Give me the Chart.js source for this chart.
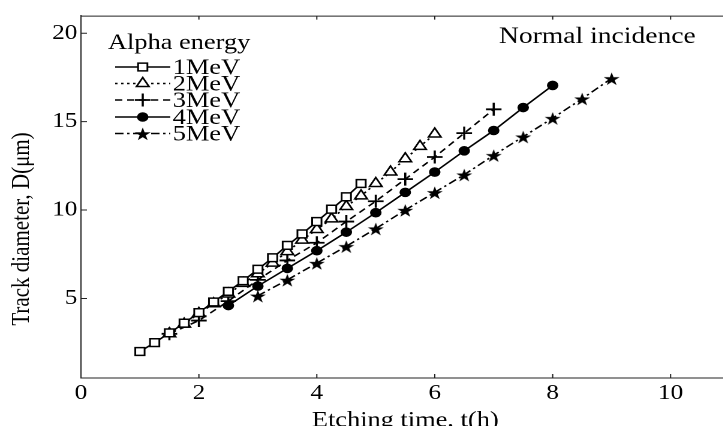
<!DOCTYPE html>
<html>
<head>
<meta charset="utf-8">
<script src="https://cdn.jsdelivr.net/npm/chart.js@4.4.1/dist/chart.umd.min.js"></script>
<style>
  html, body { margin: 0; padding: 0; background: #fff; overflow: hidden; }
  #wrap { width: 723px; height: 426px; overflow: hidden; }
</style>
</head>
<body>
<div id="wrap"><canvas id="chart" width="617" height="436" style="width:740.4px;height:436px"></canvas></div>
<script>
// Etching time (h) and track diameter (um) for each alpha energy
const t1MeV = [1, 1.25, 1.5, 1.75, 2, 2.25, 2.5, 2.75, 3, 3.25, 3.5, 3.75, 4, 4.25, 4.5, 4.75];
const d1MeV = [2.0, 2.5, 3.05, 3.6, 4.2, 4.8, 5.4, 6.0, 6.65, 7.3, 8.0, 8.65, 9.35, 10.05, 10.75, 11.5];

const t2MeV = [1.5, 1.75, 2, 2.25, 2.5, 2.75, 3, 3.25, 3.5, 3.75, 4, 4.25, 4.5, 4.75, 5, 5.25, 5.5, 5.75, 6];
const d2MeV = [3.0, 3.55, 4.15, 4.7, 5.25, 5.85, 6.4, 7.0, 7.65, 8.3, 8.9, 9.5, 10.2, 10.8, 11.5, 12.15, 12.9, 13.6, 14.3];

const t3MeV = [1.5, 2, 2.5, 3, 3.5, 4, 4.5, 5, 5.5, 6, 6.5, 7];
const d3MeV = [3.0, 3.75, 4.85, 6.05, 7.15, 8.15, 9.35, 10.5, 11.75, 13.0, 14.35, 15.7];

const t4MeV = [2.5, 3, 3.5, 4, 4.5, 5, 5.5, 6, 6.5, 7, 7.5, 8];
const d4MeV = [4.6, 5.7, 6.7, 7.7, 8.75, 9.85, 11.0, 12.15, 13.35, 14.5, 15.8, 17.05];

const t5MeV = [3, 3.5, 4, 4.5, 5, 5.5, 6, 6.5, 7, 7.5, 8, 8.5, 9];
const d5MeV = [5.15, 6.05, 7.0, 7.95, 8.95, 10.0, 11.0, 12.0, 13.1, 14.15, 15.2, 16.3, 17.45];

const energyLabels = ['1MeV', '2MeV', '3MeV', '4MeV', '5MeV'];
const xTicks = [0, 2, 4, 6, 8, 10];
const yTicks = [5, 10, 15, 20];

const serif = '"Liberation Serif", "Times New Roman", serif';

function pts(t, d) {
    return t.map((x, i) => ({ x: x, y: d[i] }));
}

// filled five point star, drawn big and shown small so it stays sharp
function makeStar(size) {
    const k = 4;
    const c = document.createElement('canvas');
    c.width = c.height = size * k;
    const g = c.getContext('2d');
    g.scale(k, k);
    const R = size / 2 - 0.5, r = R * 0.382;
    g.beginPath();
    for (let i = 0; i < 10; i++) {
        const rad = i % 2 ? r : R;
        const a = -Math.PI / 2 + i * Math.PI / 5;
        g.lineTo(size / 2 + rad * Math.cos(a), size / 2 + 1 + rad * Math.sin(a));
    }
    g.closePath();
    g.fillStyle = '#000';
    g.fill();
    const img = new Image();
    img.width = size;
    img.height = size;
    img.src = c.toDataURL();
    return img;
}

const star = makeStar(15);

// box, inward ticks, y title, legend and the note
const framePlugin = {
    id: 'frame',
    afterDraw(chart) {
        const ctx = chart.ctx;
        const area = chart.chartArea;
        const xs = chart.scales.x, ys = chart.scales.y;
        ctx.save();
        ctx.strokeStyle = '#222';
        ctx.lineWidth = 1;
        ctx.beginPath();
        ctx.moveTo(area.left, area.top + 0.5);
        ctx.lineTo(area.right, area.top + 0.5);
        ctx.moveTo(area.right - 0.5, area.top);
        ctx.lineTo(area.right - 0.5, area.bottom);
        xTicks.forEach(v => {
            const px = xs.getPixelForValue(v);
            if (v === 0) return;
            ctx.moveTo(px, area.bottom);
            ctx.lineTo(px, area.bottom - 4);
            ctx.moveTo(px, area.top);
            ctx.lineTo(px, area.top + 4);
        });
        yTicks.forEach(v => {
            const py = ys.getPixelForValue(v);
            ctx.moveTo(area.left, py);
            ctx.lineTo(area.left + 5, py);
        });
        ctx.stroke();

        ctx.fillStyle = '#000';

        // y axis title sits a bit below the middle of the axis
        ctx.save();
        ctx.translate(18.5, 229);
        ctx.rotate(-Math.PI / 2);
        ctx.textAlign = 'center';
        ctx.textBaseline = 'middle';
        ctx.font = '21px ' + serif;
        ctx.fillText('Track diameter, D(μm)', 0, 0);
        ctx.restore();

        ctx.textBaseline = 'middle';
        ctx.font = '23px ' + serif;
        ctx.fillText('Normal incidence', 416, 37);
        ctx.font = '22px ' + serif;
        ctx.fillText('Alpha energy', 90, 43);

        const rows = [67, 83.5, 100, 117, 133.5];
        chart.data.datasets.forEach((ds, i) => {
            const y = rows[i];
            ctx.save();
            ctx.strokeStyle = '#000';
            ctx.lineWidth = ds.borderWidth;
            ctx.setLineDash(ds.borderDash || []);
            ctx.beginPath();
            ctx.moveTo(96, y);
            ctx.lineTo(142, y);
            ctx.stroke();
            ctx.setLineDash([]);
            ctx.fillStyle = ds.pointBackgroundColor;
            ctx.strokeStyle = '#000';
            ctx.lineWidth = ds.pointBorderWidth;
            Chart.helpers.drawPoint(ctx, {
                pointStyle: ds.pointStyle,
                radius: ds.pointRadius,
                rotation: 0,
                borderWidth: ds.pointBorderWidth
            }, 119, y);
            ctx.restore();
            ctx.fillStyle = '#000';
            ctx.font = '22px ' + serif;
            ctx.fillText(ds.label, 144, y + 1);
        });
        ctx.restore();
    }
};

function build() {
    const ctx = document.getElementById('chart').getContext('2d');
    new Chart(ctx, {
        type: 'line',
        data: {
            datasets: [{
                label: energyLabels[0],
                data: pts(t1MeV, d1MeV),
                borderColor: '#000',
                borderWidth: 1.5,
                pointStyle: 'rect',
                pointRadius: 5.5,
                pointBackgroundColor: '#fff',
                pointBorderColor: '#000',
                pointBorderWidth: 1.5
            }, {
                label: energyLabels[1],
                data: pts(t2MeV, d2MeV),
                borderColor: '#000',
                borderWidth: 1.5,
                borderDash: [2, 3],
                pointStyle: 'triangle',
                pointRadius: 6,
                pointBackgroundColor: '#fff',
                pointBorderColor: '#000',
                pointBorderWidth: 1.5
            }, {
                label: energyLabels[2],
                data: pts(t3MeV, d3MeV),
                borderColor: '#000',
                borderWidth: 1.5,
                borderDash: [6, 4],
                pointStyle: 'cross',
                pointRadius: 6.5,
                pointBackgroundColor: '#000',
                pointBorderColor: '#000',
                pointBorderWidth: 1.8
            }, {
                label: energyLabels[3],
                data: pts(t4MeV, d4MeV),
                borderColor: '#000',
                borderWidth: 1.5,
                pointStyle: 'circle',
                pointRadius: 4.3,
                pointBackgroundColor: '#000',
                pointBorderColor: '#000',
                pointBorderWidth: 1
            }, {
                label: energyLabels[4],
                data: pts(t5MeV, d5MeV),
                borderColor: '#000',
                borderWidth: 1.5,
                borderDash: [7, 3, 2, 3],
                pointStyle: star,
                pointRadius: 7,
                pointBackgroundColor: '#000',
                pointBorderColor: '#000',
                pointBorderWidth: 0
            }]
        },
        options: {
            responsive: false,
            devicePixelRatio: 2,
            animation: false,
            layout: {
                padding: { top: 14, right: 8.7, left: 0, bottom: 0 }
            },
            elements: {
                line: { tension: 0 }
            },
            plugins: {
                legend: { display: false },
                tooltip: { enabled: false }
            },
            scales: {
                x: {
                    type: 'linear',
                    min: 0,
                    max: 11,
                    afterBuildTicks: s => { s.ticks = xTicks.map(v => ({ value: v })); },
                    afterFit: s => { s.height = 58; },
                    grid: { display: false, drawTicks: false },
                    border: { display: true, color: '#222', width: 1 },
                    ticks: { color: '#000', font: { family: serif, size: 21 }, padding: 3, maxRotation: 0, autoSkip: false },
                    title: {
                        display: true,
                        text: 'Etching time, t(h)',
                        color: '#000',
                        font: { family: serif, size: 22 },
                        padding: { top: 0, bottom: 2 }
                    }
                },
                y: {
                    type: 'linear',
                    min: 0.5,
                    max: 21,
                    afterBuildTicks: s => { s.ticks = yTicks.map(v => ({ value: v })); },
                    afterFit: s => { s.width = 67.5; },
                    grid: { display: false, drawTicks: false },
                    border: { display: true, color: '#222', width: 1 },
                    ticks: { color: '#000', font: { family: serif, size: 21 }, padding: 3 },
                    title: { display: false }
                }
            }
        },
        plugins: [framePlugin]
    });
}

if (star.complete) build(); else star.onload = build;
</script>
</body>
</html>
